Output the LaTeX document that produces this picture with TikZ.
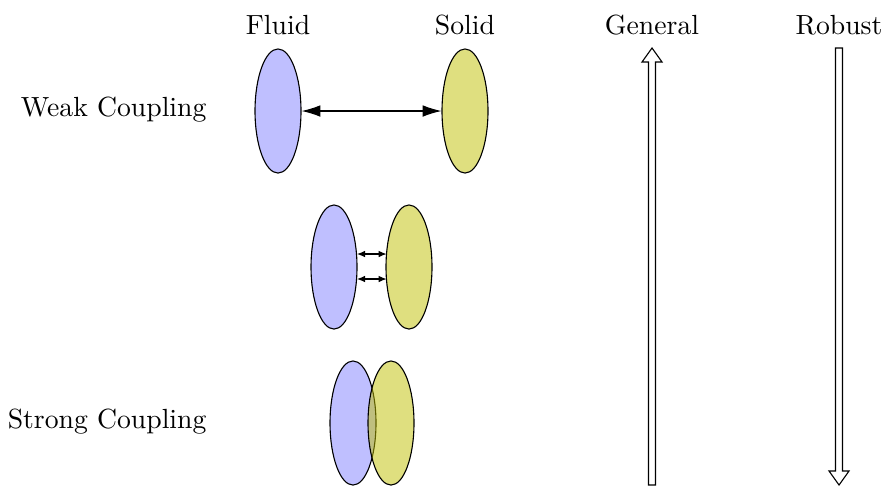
\documentclass[tikz,border=0pt]{standalone}
\usetikzlibrary{arrows.meta,shapes.geometric}
\definecolor{fluidc}{RGB}{191,191,255}
\definecolor{solidc}{RGB}{191,191,0}
\begin{document}
\begin{tikzpicture}[x=0.361pt,y=-0.361pt,
  fluid/.style={ellipse,draw,fill=fluidc,minimum width=16.6pt,minimum height=44.8pt,inner sep=0pt},
  solid/.style={ellipse,draw,fill=solidc,fill opacity=0.5,draw opacity=1,minimum width=16.6pt,minimum height=44.8pt,inner sep=0pt},
  bigtip/.style={{Latex[length=6.8pt,width=4.2pt]}-{Latex[length=6.8pt,width=4.2pt]}},
  smalltip/.style={{Latex[length=2.9pt,width=2.4pt]}-{Latex[length=2.9pt,width=2.4pt]}},
  lbl/.style={inner sep=0pt},
  hollow/.style={draw,fill=white,line width=0.4pt}]
\useasboundingbox (0,0) rectangle (885,486);
% labels
\node[lbl] (fl) at (278,25) {Fluid};
\node[lbl] (so) at (465,25) {Solid};
\node[lbl] (ge) at (652,25) {General};
\node[lbl] (ro) at (839,25) {Robust};
\node[lbl,anchor=east] (wc) at (207,110) {Weak Coupling};
\node[lbl,anchor=east] (sc) at (207,422) {Strong Coupling};
% weak
\node[fluid] (f1) at (278,111) {};
\node[solid] (s1) at (465,111) {};
\draw[bigtip] (f1.east) -- (s1.west);
% middle
\node[fluid] (f2) at (334,267) {};
\node[solid] (s2) at (409,267) {};
\coordinate (a1) at (357,254); \coordinate (b1) at (386.6,254);
\coordinate (a2) at (357,279); \coordinate (b2) at (386.6,279);
\draw[smalltip] (a1) -- (b1);
\draw[smalltip] (a2) -- (b2);
% strong
\node[fluid] (f3) at (353,423) {};
\node[solid] (s3) at (391,423) {};
% big hollow arrows
\draw[hollow] (648.5,485) -- (648.5,62) -- (642,62) -- (652,48) -- (662,62) -- (655.5,62) -- (655.5,485) -- cycle;
\draw[hollow] (835.5,48) -- (835.5,471) -- (829,471) -- (839,485) -- (849,471) -- (842.5,471) -- (842.5,48) -- cycle;
\end{tikzpicture}
\end{document}
